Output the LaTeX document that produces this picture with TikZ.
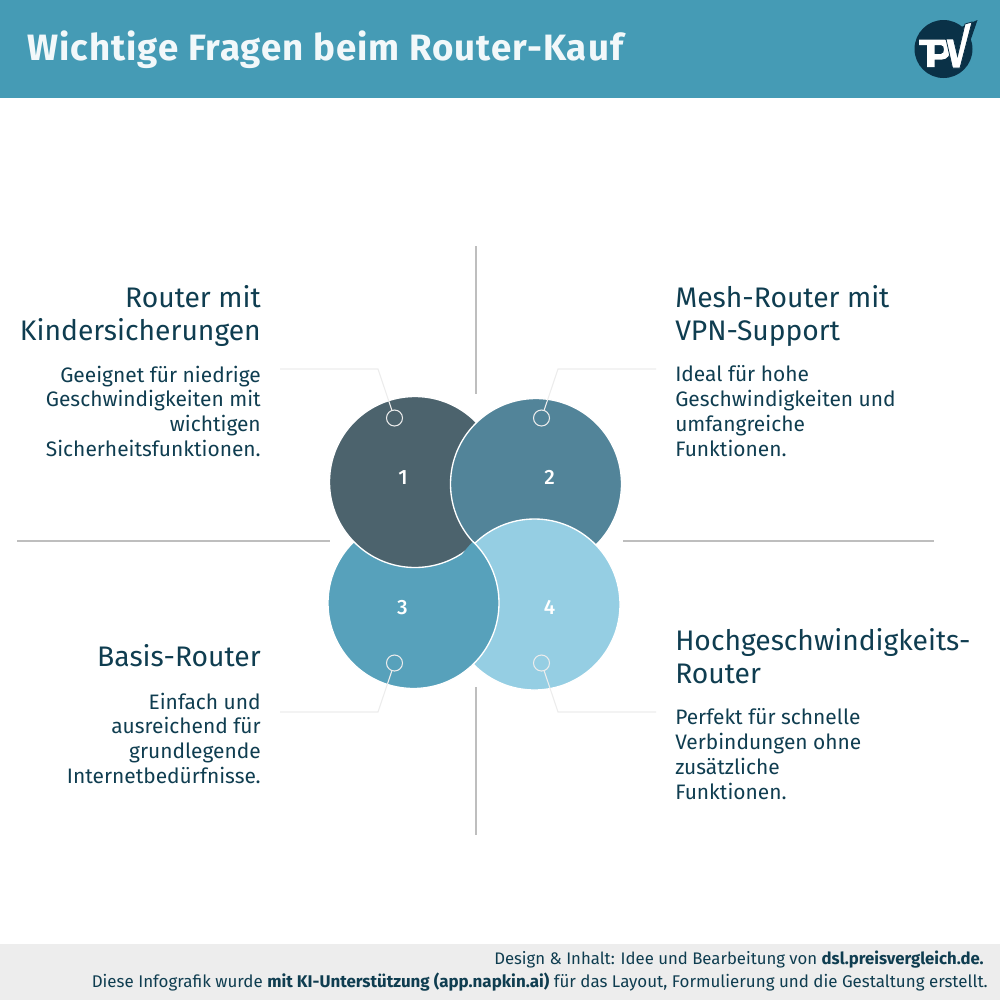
\documentclass[tikz,border=0pt]{standalone}
\usepackage{fontspec}
\setmainfont{Fira Sans}
\newfontfamily\numfont{Fira Sans Medium}
\definecolor{headblue}{HTML}{459BB5}
\definecolor{inkdark}{HTML}{0F3D50}
\definecolor{logodark}{HTML}{0A3147}
\definecolor{footgray}{HTML}{EDEDED}
\definecolor{rulegray}{HTML}{BEBEBE}
\definecolor{leadgray}{HTML}{ECECEC}
\definecolor{bubbleA}{HTML}{4C636D}
\definecolor{bubbleB}{HTML}{528499}
\definecolor{bubbleC}{HTML}{57A1BB}
\definecolor{bubbleD}{HTML}{95CEE3}
\tikzset{
	bubble/.style={circle,draw=white,line width=1pt,minimum size=128.25pt,inner sep=0pt,outer sep=0pt},
	ring/.style={circle,draw=white!85!gray,line width=0.8pt,minimum size=12pt,inner sep=0pt,outer sep=0pt},
	numlabel/.style={text=white,font=\fontsize{15.5}{18}\selectfont\numfont},
	headleft/.style={anchor=north east,align=right,text=inkdark,inner sep=0pt,font=\fontsize{21.2}{24.4}\selectfont},
	headright/.style={anchor=north west,align=left,text=inkdark,inner sep=0pt,font=\fontsize{21.2}{24.4}\selectfont},
	bodyleft/.style={anchor=north east,align=right,text=inkdark,inner sep=0pt,font=\fontsize{15.7}{18.55}\selectfont},
	bodyright/.style={anchor=north west,align=left,text=inkdark,inner sep=0pt,font=\fontsize{15.7}{18.55}\selectfont},
	footline/.style={anchor=east,text=inkdark,inner sep=0pt,font=\fontsize{12.7}{14}\selectfont},
	leader/.style={draw=leadgray,line width=0.8pt},
	divider/.style={draw=rulegray,line width=1pt}
}
\begin{document}
\begin{tikzpicture}[x=0.75pt,y=-0.75pt]
	\useasboundingbox (0,0) rectangle (1000,1000);

	% Kopfzeile und Fusszeile
	\fill[headblue] (0,0) rectangle (1000,98);
	\fill[footgray] (0,944) rectangle (1000,1000);
	\node[anchor=west,text=white!93!headblue,inner sep=0pt,font=\fontsize{27.5}{30}\selectfont\bfseries\addfontfeatures{LetterSpace=2.7}] (title) at (27,50) {Wichtige Fragen beim Router-Kauf};

	% Logo
	\fill[logodark] (943.5,49) circle (29);
	\fill[logodark] (959,28) -- (977.5,20) -- (961,68) -- (950,68) -- cycle;
	\fill[white,even odd rule] (919,39.5) -- (944,39.5) .. controls (953,39.5) and (953,59.5) .. (942,59.5) -- (934.5,59.5) -- (934.5,67) -- (927,67) -- (927,45) -- (919,45) -- cycle
		(934.5,45) -- (941,45) .. controls (945,45) and (945,54) .. (941,54) -- (934.5,54) -- cycle;
	\filldraw[fill=white,draw=logodark,line width=0.6pt] (946,39) -- (953.5,39) -- (957.5,56) -- (965,24) -- (972,22) -- (960,68) -- (952.5,68) -- cycle;

	% Trennlinien
	\coordinate (t1) at (476,246);
	\coordinate (t2) at (476,394);
	\coordinate (b1) at (476,687);
	\coordinate (b2) at (476,835);
	\coordinate (l1) at (17,541);
	\coordinate (l2) at (330,541);
	\coordinate (r1) at (623,541);
	\coordinate (r2) at (934,541);
	\draw[divider] (t1) -- (t2);
	\draw[divider] (b1) -- (b2);
	\draw[divider] (l1) -- (l2);
	\draw[divider] (r1) -- (r2);

	% Kreise
	\node[bubble,fill=bubbleC] (c3) at (413.5,603) {};
	\node[bubble,fill=bubbleA] (c1) at (415,482) {};
	\node[bubble,fill=bubbleB] (c2) at (536,484) {};
	\node[bubble,fill=bubbleD] (c4) at (534.5,604.5) {};
	\begin{scope}
		\clip (534.5,604.5) circle (88);
		\node[bubble,fill=bubbleC] at (413.5,603) {};
	\end{scope}

	% Nummern
	\node[numlabel] (n1) at (403,477.5) {1};
	\node[numlabel] (n2) at (549.5,477.5) {2};
	\node[numlabel] (n3) at (402.5,607.5) {3};
	\node[numlabel] (n4) at (549.5,607.5) {4};

	% Ringe und Fuehrungslinien
	\node[ring] (m1) at (394.5,418) {};
	\node[ring] (m2) at (541.5,418) {};
	\node[ring] (m3) at (394.5,663) {};
	\node[ring] (m4) at (541.5,663) {};
	\coordinate (e1) at (378,369);
	\coordinate (e2) at (558,369);
	\coordinate (e3) at (378,712);
	\coordinate (e4) at (558,712);
	\coordinate (s1) at (280,369);
	\coordinate (s2) at (656,369);
	\coordinate (s3) at (280,712);
	\coordinate (s4) at (656,712);
	\draw[leader] (s1) -- (e1) -- (m1);
	\draw[leader] (s2) -- (e2) -- (m2);
	\draw[leader] (s3) -- (e3) -- (m3);
	\draw[leader] (s4) -- (e4) -- (m4);

	% Texte links
	\node[headleft] (h1) at (261,285.5) {Router mit\\Kindersicherungen};
	\node[bodyleft] (d1) at (261,365.5) {Geeignet für niedrige\\Geschwindigkeiten mit\\wichtigen\\Sicherheitsfunktionen.};
	\node[headleft] (h3) at (261,644.5) {Basis-Router};
	\node[bodyleft] (d3) at (261,692.5) {Einfach und\\ausreichend für\\grundlegende\\Internetbedürfnisse.};

	% Texte rechts
	\node[headright] (h2) at (675,285.5) {Mesh-Router mit\\VPN-Support};
	\node[bodyright] (d2) at (675,365.5) {Ideal für hohe\\Geschwindigkeiten und\\umfangreiche\\Funktionen.};
	\node[headright] (h4) at (675,628.5) {Hochgeschwindigkeits-\\Router};
	\node[bodyright] (d4) at (675,708.5) {Perfekt für schnelle\\Verbindungen ohne\\zusätzliche\\Funktionen.};

	% Fusszeile
	\node[footline,font=\fontsize{12.55}{14}\selectfont] (f1) at (984,960) {Design \& Inhalt: Idee und Bearbeitung von \textbf{dsl.preisvergleich.de.}};
	\node[footline] (f2) at (988,982) {Diese Infografik wurde \textbf{mit KI-Unterstützung (app.napkin.ai)} für das Layout, Formulierung und die Gestaltung erstellt.};
\end{tikzpicture}
\end{document}
